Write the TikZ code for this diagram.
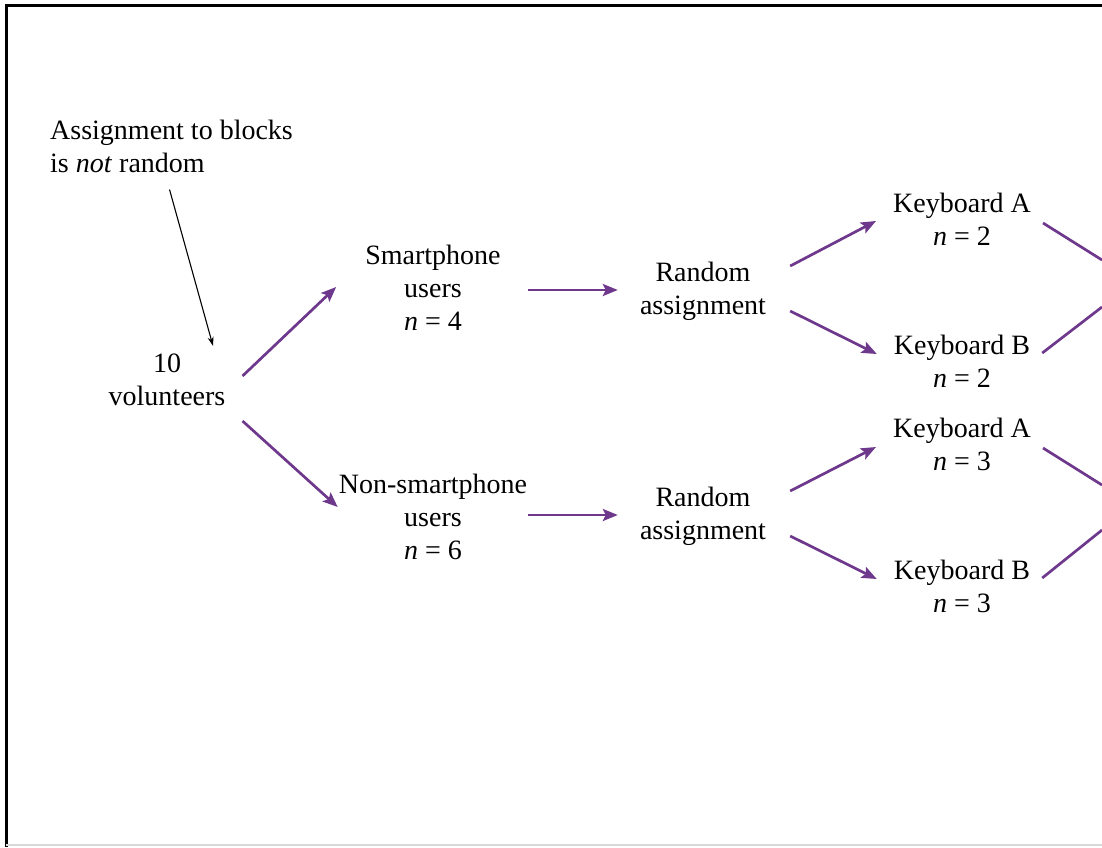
\documentclass[tikz,border=0pt]{standalone}
\usepackage{fontspec}
\setmainfont{Liberation Serif}
\usetikzlibrary{calc, positioning}
\usetikzlibrary{arrows.meta}

\begin{document}
\begin{tikzpicture}[x=1pt,y=-1pt,
  boxtext/.style={align=center,inner sep=0pt,font=\fontsize{28}{33}\selectfont},
  flow/.style={line width=2.7pt,draw=routepurple,-{Stealth[length=15pt,width=12pt,inset=3pt]}},
  flowline/.style={line width=2.7pt,draw=routepurple},
  pointer/.style={line width=1.1pt,-{Stealth[length=9pt,width=6pt]}}]
\definecolor{routepurple}{RGB}{110,56,140}
\useasboundingbox (0,0) rectangle (1102,847);
\draw[line width=3pt] (1102,5) -- (6,5) -- (6,847);
\draw[line width=1.5pt,black!15] (6,845) -- (1102,845);

\coordinate (VolPos) at (167,380);
\coordinate (SmartPos) at (433,288);
\coordinate (NonSmartPos) at (433,517);
\coordinate (RandTopPos) at (703,291);
\coordinate (RandBotPos) at (703,516);
\coordinate (KATopPos) at (962,219);
\coordinate (KBTopPos) at (962,361);
\coordinate (KABotPos) at (962,444);
\coordinate (KBBotPos) at (962,586);
\coordinate (OutKATop) at (1102,260);
\coordinate (OutKBTop) at (1102,307);
\coordinate (OutKABot) at (1102,485);
\coordinate (OutKBBot) at (1102,530);

\node[boxtext,align=left,anchor=west] (note) at (50,146) {Assignment to blocks\\is \textit{not} random};
\node[boxtext] (vol) at (VolPos) {10\\volunteers};
\node[boxtext] (smart) at (SmartPos) {Smartphone\\users\\\textit{n} = 4};
\node[boxtext] (nonsmart) at (NonSmartPos) {Non-smartphone\\users\\\textit{n} = 6};
\node[boxtext] (randtop) at (RandTopPos) {Random\\assignment};
\node[boxtext] (randbot) at (RandBotPos) {Random\\assignment};
\node[boxtext] (katop) at (KATopPos) {Keyboard A\\\textit{n} = 2};
\node[boxtext] (kbtop) at (KBTopPos) {Keyboard B\\\textit{n} = 2};
\node[boxtext] (kabot) at (KABotPos) {Keyboard A\\\textit{n} = 3};
\node[boxtext] (kbbot) at (KBBotPos) {Keyboard B\\\textit{n} = 3};

\draw[pointer] ($(note.south)+(-2,17)$) -- ($(vol.north)+(46,-8)$);

\draw[flow] ($(vol.east)+(17,-4)$) -- ($(smart.west)+(-29,-1)$);
\draw[flow] ($(vol.east)+(17,41)$) -- ($(nonsmart.west)+(-1,-10)$);
\draw[flow] ($(smart.east)+(27,2)$) -- ($(randtop.west)+(-22,-1)$);
\draw[flow] ($(nonsmart.east)+(1,-2)$) -- ($(randbot.west)+(-22,-1)$);

\draw[flow] ($(randtop.east)+(24,-25)$) -- ($(katop.west)+(-17,2)$);
\draw[flow] ($(randtop.east)+(24,20)$) -- ($(kbtop.west)+(-17,-7)$);
\draw[flow] ($(randbot.east)+(24,-25)$) -- ($(kabot.west)+(-17,3)$);
\draw[flow] ($(randbot.east)+(24,20)$) -- ($(kbbot.west)+(-17,-7)$);

\draw[flowline] ($(katop.east)+(12,4)$) -- (OutKATop);
\draw[flowline] ($(kbtop.east)+(12,-8)$) -- (OutKBTop);
\draw[flowline] ($(kabot.east)+(12,4)$) -- (OutKABot);
\draw[flowline] ($(kbbot.east)+(12,-8)$) -- (OutKBBot);
\end{tikzpicture}
\end{document}
